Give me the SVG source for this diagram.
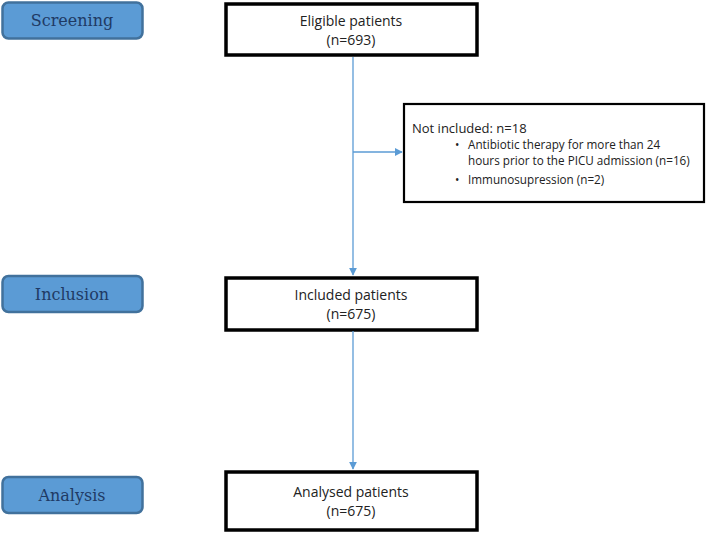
<svg xmlns="http://www.w3.org/2000/svg" width="708" height="533" viewBox="0 0 708 533">
<defs>
<style>
.stage rect{fill:#5b9bd5;stroke:#41719c;stroke-width:2.5}
.stage text{font-family:"DejaVu Serif","Liberation Serif",serif;font-size:16px;fill:#1f3a64;text-anchor:middle}
.box rect{fill:#fff;stroke:#000;stroke-width:3.5}
.box text{font-family:"Open Sans","Liberation Sans",sans-serif;font-size:14px;fill:#222;text-anchor:middle}
.note rect{fill:#fff;stroke:#000;stroke-width:2.2}
.note text{font-family:"Open Sans","Liberation Sans",sans-serif;font-size:11.7px;fill:#222;text-anchor:start}
.conn line{stroke:#5b9bd5;stroke-width:1.3}
</style>
<marker id="ah" viewBox="0 0 10 10" refX="9" refY="5" markerWidth="8" markerHeight="8" markerUnits="userSpaceOnUse" orient="auto">
<path d="M0,0 L10,5 L0,10 z" fill="#5b9bd5"/>
</marker>
</defs>
<g id="screening" class="stage"><rect x="2.5" y="2.5" width="140" height="36" rx="6"/><text x="72" y="26">Screening</text></g>
<g id="inclusion" class="stage"><rect x="2.5" y="276" width="140" height="36" rx="6"/><text x="72" y="300">Inclusion</text></g>
<g id="analysis" class="stage"><rect x="2.5" y="477" width="140" height="36" rx="6"/><text x="72" y="501">Analysis</text></g>
<g id="eligible" class="box"><rect x="226" y="4" width="251" height="51"/><text x="351" y="26">Eligible patients</text><text x="351" y="45">(n=693)</text></g>
<g id="included" class="box"><rect x="226" y="278" width="251" height="52"/><text x="351" y="300">Included patients</text><text x="351" y="319">(n=675)</text></g>
<g id="analysed" class="box"><rect x="226" y="472" width="251" height="58"/><text x="351" y="497">Analysed patients</text><text x="351" y="516">(n=675)</text></g>
<g id="notincluded" class="note"><rect x="404" y="104" width="300" height="98"/>
<text x="412" y="133" style="font-size:13px">Not included: n=18</text>
<text x="455" y="149">•</text><text x="468" y="149">Antibiotic therapy for more than 24</text>
<text x="468" y="165">hours prior to the PICU admission (n=16)</text>
<text x="455" y="184">•</text><text x="468" y="184">Immunosupression (n=2)</text>
</g>
<g id="connectors" class="conn">
<line x1="353" y1="57" x2="353" y2="275" marker-end="url(#ah)"/>
<line x1="353" y1="152" x2="402" y2="152" marker-end="url(#ah)"/>
<line x1="353" y1="331" x2="353" y2="469" marker-end="url(#ah)"/>
</g>
</svg>
